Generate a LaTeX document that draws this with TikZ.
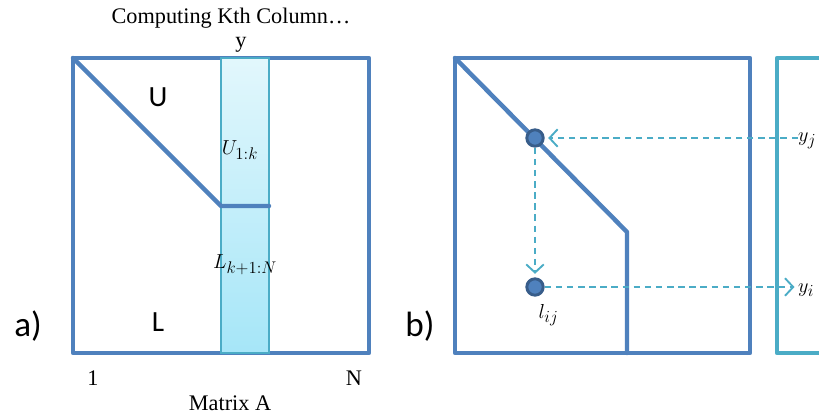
\documentclass[tikz,border=0pt]{standalone}
\usepackage{fontspec}
\setmainfont{Liberation Serif}
\newfontfamily\calibri{Carlito}
\usetikzlibrary{arrows.meta,positioning}
\definecolor{matblue}{HTML}{4F81BD}
\definecolor{dotedge}{HTML}{385D8A}
\definecolor{colcyan}{HTML}{4BACC6}
\definecolor{coltop}{HTML}{E2F7FC}
\definecolor{colbot}{HTML}{A6E6F8}
\tikzset{
    matline/.style={draw=matblue, line width=3.8pt, line join=round, line cap=round},
    colbox/.style={draw=colcyan, line width=1.5pt, top color=coltop, bottom color=colbot},
    dot/.style={circle, fill=matblue, draw=dotedge, line width=2.5pt, minimum size=14pt, inner sep=0pt},
    guide/.style={draw=colcyan, line width=1.6pt, dash pattern=on 5.5pt off 4pt, shorten >=3pt, -{Straight Barb[length=7pt,width=15pt,line width=1.6pt]}},
    serif/.style={font=\fontsize{19}{21}\selectfont, inner sep=1pt},
    part/.style={font=\calibri\fontsize{30}{32}\selectfont, inner sep=0pt},
    region/.style={font=\calibri\fontsize{25}{28}\selectfont, inner sep=0pt},
    entry/.style={font=\fontsize{19}{21}\selectfont, inner sep=0pt}
}

\begin{document}
\begin{tikzpicture}[x=0.03cm, y=-0.03cm]
\useasboundingbox (0,0) rectangle (819,417);

% a) Matrix A, column k
\draw[matline] (73,58) rectangle (369,353);
\path[colbox] (221,58) rectangle (269,353);
\draw[matline] (73,58) -- (221,206) -- (269,206);

\node[serif] (title) at (231,18) {Computing Kth Column\ldots};
\node[serif] (ylab) at (241,45) {y};
\node[region] (upper) at (158,97) {U};
\node[region] (lower) at (158,322) {L};
\node[entry] (ublock) at (240,150) {$U_{1:k}$};
\node[entry] (lblock) at (245,265) {$L_{k+1:N}$};
\node[part] (parta) at (28,326) {a)};
\node[serif] (first) at (93,378) {1};
\node[serif] (last) at (354,378) {N};
\node[serif] (caption) at (230,403) {Matrix A};

% b) Column entries and vector y
\draw[matline] (455,58) rectangle (750,353);
\draw[matline] (455,58) -- (627,232) -- (627,353);
\draw[draw=colcyan, line width=3.8pt, line join=round] (822,58) -- (777,58) -- (777,353) -- (822,353);

\node[part] (partb) at (420,326) {b)};
\node[dot] (diag) at (535,138) {};
\node[dot] (lij) at (535,287) {};
\node[entry, below right=9pt and -3pt of lij] (lijlab) {$l_{ij}$};
\node[entry, anchor=west] (yj) at (798,141) {$y_j$};
\node[entry, anchor=west] (yi) at (798,290) {$y_i$};

\draw[guide] (yj.west |- diag) -- (diag);
\draw[guide] (diag) -- (lij);
\draw[guide] (lij) -- (yi.west |- lij);

\end{tikzpicture}
\end{document}
